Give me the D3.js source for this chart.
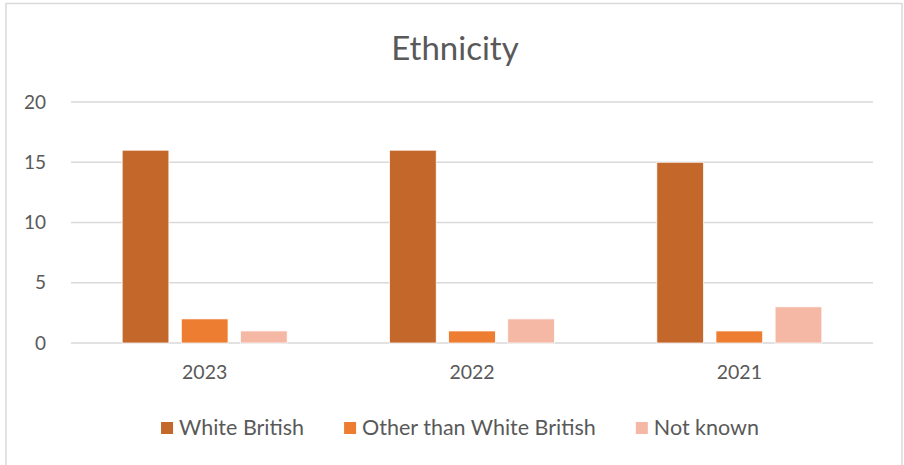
<!DOCTYPE html>
<html>
<head>
<meta charset="utf-8">
<script src="https://cdn.jsdelivr.net/npm/d3@7"></script>
<style>
  body { margin: 0; background: #fff; }
  text { font-family: Lato, "Open Sans", sans-serif; fill: #595959; }
</style>
</head>
<body>
<div id="chart"></div>
<script>
// data
var years = ["2023", "2022", "2021"];
var series = ["White British", "Other than White British", "Not known"];
var whiteBritish = [16, 16, 15];
var otherThanWhite = [2, 1, 1];
var notKnown = [1, 2, 3];
var yTicks = [0, 5, 10, 15, 20];
var colors = ["#C4672A", "#ED7D31", "#F4B8A4"];

var svgWidth = 904;
var svgHeight = 465;

var margin = { top: 102, right: 31, bottom: 122, left: 71 };
var width = svgWidth - margin.left - margin.right;
var height = svgHeight - margin.top - margin.bottom;

var svg = d3.select("#chart")
  .append("svg")
  .attr("width", svgWidth)
  .attr("height", svgHeight);

// chart frame
svg.append("rect")
  .attr("x", 6)
  .attr("y", 3.5)
  .attr("width", 896)
  .attr("height", 470)
  .attr("fill", "none")
  .attr("stroke", "#D9D9D9")
  .attr("stroke-width", 1.5);

svg.append("text")
  .attr("x", 455)
  .attr("y", 60)
  .attr("text-anchor", "middle")
  .style("font-size", "33px")
  .text("Ethnicity");

var chartGroup = svg.append("g")
  .attr("transform", `translate(${margin.left}, ${margin.top})`);

var table = years.map(function (y, i) {
  return { year: y, values: [whiteBritish[i], otherThanWhite[i], notKnown[i]] };
});

var x0 = d3.scaleBand()
  .domain(years)
  .range([0, width]);

var groupWidth = 165;
var gpad = (x0.bandwidth() - groupWidth) / 2;
var x1 = d3.scaleBand()
  .domain(series)
  .range([gpad, gpad + groupWidth])
  .paddingInner(0.21);

var y = d3.scaleLinear()
  .domain([0, 20])
  .range([height, 0]);

// gridlines
chartGroup.append("g")
  .selectAll("line")
  .data(yTicks)
  .enter()
  .append("line")
  .attr("x1", 0)
  .attr("x2", width)
  .attr("y1", d => y(d))
  .attr("y2", d => y(d))
  .attr("stroke", "#D9D9D9")
  .attr("stroke-width", 1.5);

// y axis labels
var leftAxis = d3.axisLeft(y).tickValues(yTicks).tickSize(0).tickPadding(25);
chartGroup.append("g")
  .call(leftAxis)
  .call(g => g.select(".domain").remove())
  .selectAll("text")
  .style("font-size", "19px")
  .attr("fill", "#595959");

// bars
var groups = chartGroup.selectAll(".year")
  .data(table)
  .enter()
  .append("g")
  .attr("transform", d => `translate(${x0(d.year)}, 0)`);

groups.selectAll("rect")
  .data(d => d.values.map((v, i) => ({ key: series[i], value: v, idx: i })))
  .enter()
  .append("rect")
  .attr("x", d => x1(d.key))
  .attr("y", d => y(d.value))
  .attr("width", x1.bandwidth())
  .attr("height", d => height - y(d.value))
  .attr("fill", d => colors[d.idx])
  .attr("stroke", "#fff")
  .attr("stroke-width", 0.75);

// x axis labels
var bottomAxis = d3.axisBottom(x0).tickSize(0).tickPadding(22);
chartGroup.append("g")
  .attr("transform", `translate(0, ${height})`)
  .call(bottomAxis)
  .call(g => g.select(".domain").remove())
  .selectAll("text")
  .style("font-size", "19.5px")
  .attr("fill", "#595959");

// legend
var legend = svg.append("g");
var legendItems = legend.selectAll("g")
  .data(series)
  .enter()
  .append("g");

legendItems.append("rect")
  .attr("width", 12)
  .attr("height", 12)
  .attr("y", -13)
  .attr("fill", (d, i) => colors[i]);

legendItems.append("text")
  .attr("x", 18)
  .attr("y", 0)
  .style("font-size", "21.5px")
  .text(d => d);

var gap = 40;
var widths = [];
legendItems.each(function () { widths.push(this.getBBox().width); });
var total = d3.sum(widths) + gap * (widths.length - 1);
var cx = 460 - total / 2;
legendItems.attr("transform", function (d, i) {
  var pos = cx;
  cx += widths[i] + gap;
  return `translate(${pos}, 435)`;
});
</script>
</body>
</html>
